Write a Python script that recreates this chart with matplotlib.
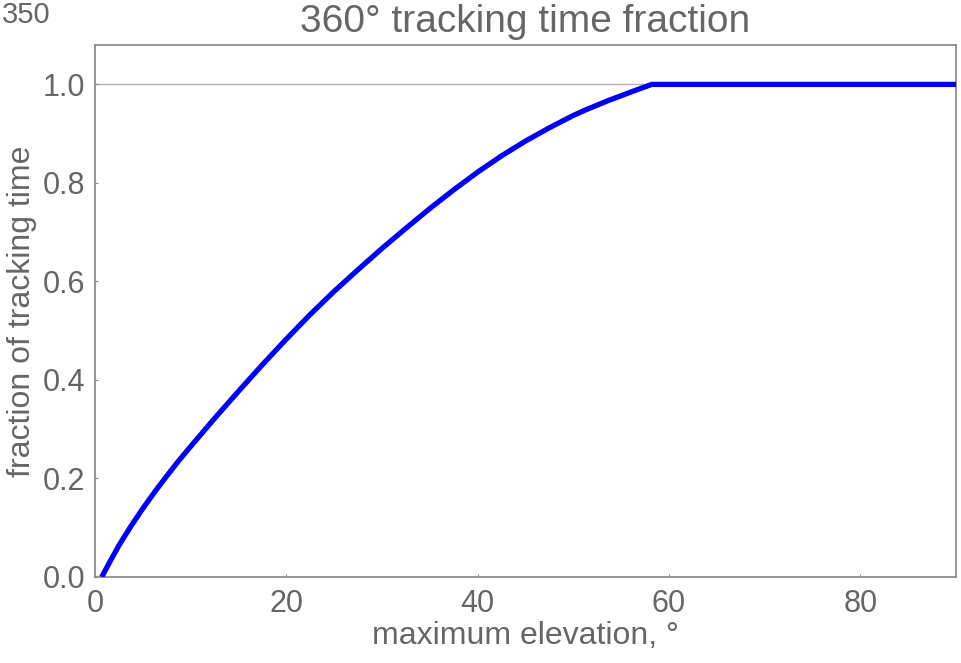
import matplotlib
matplotlib.use("Agg")
import matplotlib.pyplot as plt

plt.rcParams['font.family'] = ['Liberation Sans', 'DejaVu Sans']

# maximum elevation (deg) vs. fraction of tracking time
elevation = [0.7, 1.5, 2.5, 3.75, 5, 6.25, 7.5, 8.75, 10, 12.5, 15, 17.5,
             20, 22.5, 25, 27.5, 30, 32.5, 35, 37.5, 40, 42.5, 45, 47.5,
             50, 51.25, 52.5, 53.75, 55, 56.5, 58.2, 90]
fraction = [0.0, 0.029, 0.064, 0.103, 0.139, 0.173, 0.205, 0.236, 0.265,
            0.322, 0.377, 0.431, 0.483, 0.533, 0.580, 0.624, 0.667, 0.708,
            0.748, 0.786, 0.822, 0.855, 0.885, 0.912, 0.937, 0.948, 0.958,
            0.968, 0.977, 0.988, 1.0, 1.0]

x_ticks = [0, 20, 40, 60, 80]
y_ticks = [0.0, 0.2, 0.4, 0.6, 0.8, 1.0]

text_col = '#666666'
frame_col = '#8c8c8c'

fig = plt.figure(figsize=(9.61, 6.63), dpi=100)
ax = fig.add_axes([95 / 961, 1 - 577 / 663, (956 - 95) / 961, (577 - 45) / 663])

ax.axhline(1.0, color='#b0b0b0', lw=1.0, zorder=1)
ax.plot(elevation, fraction, color='#0000f0', lw=3.8, solid_joinstyle='round',
        solid_capstyle='butt', zorder=3)

ax.set_xlim(0, 90)
ax.set_ylim(0, 1.08)
ax.set_xticks(x_ticks)
ax.set_xticklabels([str(t) for t in x_ticks])
ax.set_yticks(y_ticks)
ax.set_yticklabels([f'{t:.1f}' for t in y_ticks])

for s in ax.spines.values():
    s.set_color(frame_col)
    s.set_linewidth(1.3)

ax.tick_params(direction='in', length=2, width=0.8, color=frame_col,
               labelsize=22, labelcolor=text_col)
ax.tick_params(axis='x', pad=9)
ax.tick_params(axis='y', pad=7)

ax.set_title('360° tracking time fraction', fontsize=28, color=text_col, pad=9)
ax.set_xlabel('maximum elevation, °', fontsize=23, color=text_col, labelpad=1)
ax.set_ylabel('fraction of tracking time', fontsize=23, color=text_col, labelpad=4)

fig.text(0.002, 1 - 23 / 663, '350', fontsize=21, color=text_col,
         ha='left', va='baseline')

fig.savefig('out.png', dpi=100)
